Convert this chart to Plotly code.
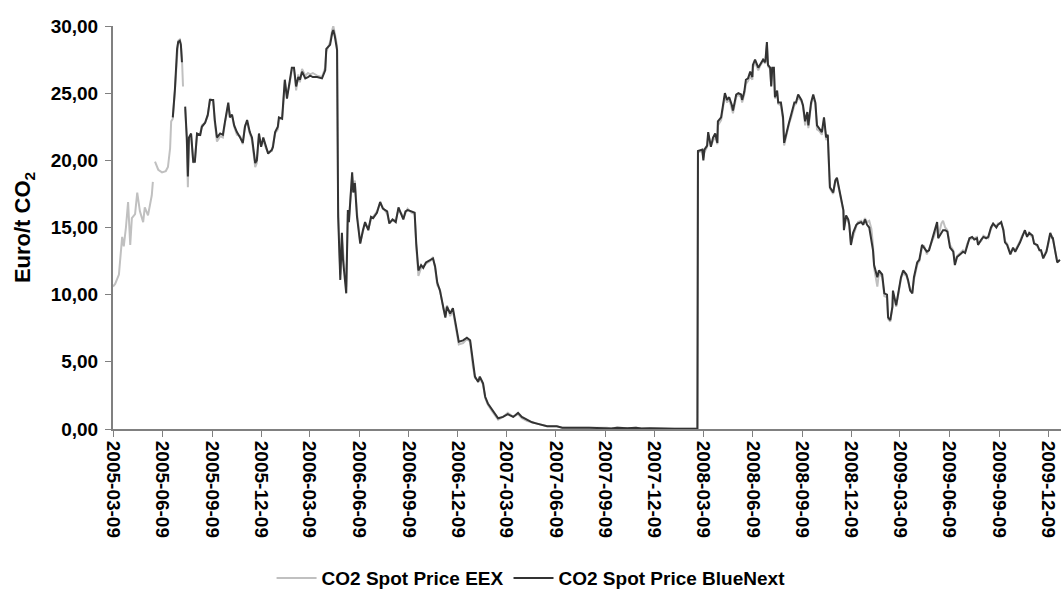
import plotly.graph_objects as go

# ---------------- data ----------------
# EEX only, early period (Phase I start)
eex_early_dates = ["2005-03-09", "2005-03-13", "2005-03-20", "2005-03-26", "2005-03-29", "2005-04-02",
                   "2005-04-06", "2005-04-10", "2005-04-13", "2005-04-19", "2005-04-23", "2005-04-28",
                   "2005-05-04", "2005-05-07", "2005-05-13", "2005-05-20", "2005-05-22", "2005-05-24",
                   "2005-05-26", "2005-06-01", "2005-06-08", "2005-06-15", "2005-06-19", "2005-06-23",
                   "2005-06-25", "2005-06-28", "2005-07-02", "2005-07-06", "2005-07-08", "2005-07-11",
                   "2005-07-13", "2005-07-15", "2005-07-17", "2005-07-19"]
eex_early = [10.6, 10.8, 11.5, 14.3, 13.6, 15.0,
             16.9, 13.7, 15.7, 16.0, 17.6, 16.2,
             15.4, 16.5, 15.9, 17.4, 18.4, None,
             19.9, 19.3, 19.1, 19.2, 19.5, 20.9,
             22.9, 23.1, 25.2, 28.2, 28.9, 29.0,
             28.7, 27.6, 25.5, None]

# BlueNext first days
bn_early_dates = ["2005-06-28", "2005-07-02", "2005-07-06", "2005-07-08", "2005-07-11",
                  "2005-07-13", "2005-07-15", "2005-07-18"]
bn_early = [23.2, 25.3, 28.3, 28.8, 28.9, 28.6, 27.3, None]

dates_main = [
    "2005-07-21", "2005-07-24", "2005-07-26", "2005-07-28", "2005-08-01", "2005-08-05", "2005-08-08", "2005-08-12",
    "2005-08-18", "2005-08-21", "2005-08-27", "2005-09-01", "2005-09-05", "2005-09-11", "2005-09-14", "2005-09-18",
    "2005-09-24", "2005-09-29", "2005-10-03", "2005-10-09", "2005-10-12", "2005-10-16", "2005-10-20", "2005-10-25",
    "2005-10-31", "2005-11-05", "2005-11-09", "2005-11-13", "2005-11-18", "2005-11-22", "2005-11-28", "2005-12-01",
    "2005-12-05", "2005-12-09", "2005-12-13", "2005-12-18", "2005-12-22", "2005-12-29", "2005-12-31", "2006-01-04",
    "2006-01-09", "2006-01-11", "2006-01-17", "2006-01-19", "2006-01-22", "2006-01-26", "2006-01-30", "2006-02-04",
    "2006-02-08", "2006-02-12", "2006-02-16", "2006-02-19", "2006-02-23", "2006-03-01", "2006-03-06", "2006-03-10",
    "2006-03-15", "2006-03-23", "2006-04-01", "2006-04-07", "2006-04-09", "2006-04-16", "2006-04-20", "2006-04-22",
    "2006-04-25", "2006-04-29", "2006-05-01", "2006-05-05", "2006-05-08", "2006-05-10", "2006-05-16", "2006-05-19",
    "2006-05-21", "2006-05-27", "2006-05-29", "2006-06-01", "2006-06-05", "2006-06-11", "2006-06-16", "2006-06-20",
    "2006-06-26", "2006-07-01", "2006-07-05", "2006-07-12", "2006-07-18", "2006-07-23", "2006-07-31", "2006-08-04",
    "2006-08-10", "2006-08-16", "2006-08-21", "2006-08-27", "2006-08-30", "2006-09-03", "2006-09-07", "2006-09-14",
    "2006-09-20", "2006-09-23", "2006-09-27", "2006-10-02", "2006-10-06", "2006-10-11", "2006-10-19", "2006-10-24",
    "2006-10-28", "2006-11-01", "2006-11-06", "2006-11-12", "2006-11-16", "2006-11-19", "2006-11-25", "2006-11-30",
    "2006-12-04", "2006-12-08", "2006-12-11", "2006-12-19", "2006-12-26", "2007-01-01", "2007-01-06", "2007-01-10",
    "2007-01-16", "2007-01-19", "2007-01-25", "2007-01-29", "2007-02-03", "2007-02-11", "2007-02-16", "2007-02-22",
    "2007-03-03", "2007-03-12", "2007-03-22", "2007-03-31", "2007-04-07", "2007-04-17", "2007-04-26", "2007-05-05",
    "2007-05-15", "2007-05-24", "2007-06-11", "2007-06-21", "2007-08-10", "2007-09-12", "2007-09-20", "2007-10-01",
    "2007-10-20", "2007-11-05", "2007-11-15", "2007-12-01", "2007-12-20", "2008-01-15", "2008-02-27",
    "2008-02-28", "2008-03-07", "2008-03-09", "2008-03-11", "2008-03-16", "2008-03-18", "2008-03-23", "2008-03-27",
    "2008-03-31", "2008-04-04", "2008-04-05", "2008-04-11", "2008-04-15", "2008-04-18", "2008-04-22", "2008-04-26",
    "2008-05-01", "2008-05-03", "2008-05-09", "2008-05-13", "2008-05-18", "2008-05-20", "2008-05-24", "2008-05-27",
    "2008-05-31", "2008-06-04", "2008-06-08", "2008-06-09", "2008-06-13", "2008-06-19", "2008-06-22", "2008-06-28",
    "2008-07-02", "2008-07-04", "2008-07-05", "2008-07-07", "2008-07-11", "2008-07-13", "2008-07-15", "2008-07-18",
    "2008-07-20", "2008-07-24", "2008-07-26", "2008-07-31", "2008-08-04", "2008-08-06", "2008-08-12", "2008-08-15",
    "2008-08-19", "2008-08-25", "2008-08-28", "2008-09-01", "2008-09-07", "2008-09-10", "2008-09-14", "2008-09-18",
    "2008-09-20", "2008-09-25", "2008-09-29", "2008-10-03", "2008-10-06", "2008-10-10", "2008-10-15", "2008-10-19",
    "2008-10-23", "2008-10-26", "2008-10-28", "2008-10-30", "2008-11-05", "2008-11-09", "2008-11-12", "2008-11-16",
    "2008-11-22", "2008-11-24", "2008-11-25", "2008-11-29", "2008-12-03", "2008-12-05", "2008-12-08", "2008-12-12",
    "2008-12-18", "2008-12-21", "2008-12-27", "2008-12-31", "2009-01-03", "2009-01-07", "2009-01-11", "2009-01-15",
    "2009-01-18", "2009-01-20", "2009-01-26", "2009-01-29", "2009-02-04", "2009-02-08", "2009-02-13", "2009-02-15",
    "2009-02-19", "2009-02-23", "2009-02-24", "2009-03-02", "2009-03-06", "2009-03-11", "2009-03-15", "2009-03-21",
    "2009-03-24", "2009-03-28", "2009-04-01", "2009-04-04", "2009-04-10", "2009-04-14", "2009-04-19", "2009-04-23",
    "2009-04-28", "2009-05-02", "2009-05-08", "2009-05-12", "2009-05-17", "2009-05-19", "2009-05-25", "2009-05-28",
    "2009-06-01", "2009-06-05", "2009-06-10", "2009-06-16", "2009-06-19", "2009-06-23", "2009-06-29", "2009-07-04",
    "2009-07-08", "2009-07-12", "2009-07-16", "2009-07-21", "2009-07-25", "2009-07-30", "2009-08-01", "2009-08-07",
    "2009-08-11", "2009-08-16", "2009-08-20", "2009-08-25", "2009-08-29", "2009-09-04", "2009-09-07", "2009-09-13",
    "2009-09-17", "2009-09-20", "2009-09-24", "2009-09-30", "2009-10-05", "2009-10-09", "2009-10-13", "2009-10-18",
    "2009-10-22", "2009-10-27", "2009-10-31", "2009-11-04", "2009-11-10", "2009-11-13", "2009-11-19", "2009-11-23",
    "2009-11-26", "2009-11-30", "2009-12-06", "2009-12-09", "2009-12-13", "2009-12-17", "2009-12-18", "2009-12-22",
    "2009-12-26", "2009-12-31",
]

bn_main = [
    24.0, 21.7, 18.8, 21.7, 22.0, 19.9, 19.9, 22.0,
    21.9, 22.5, 22.8, 23.4, 24.5, 24.5, 23.0, 21.7,
    22.0, 21.9, 22.9, 24.3, 23.2, 23.4, 22.6, 22.1,
    21.7, 21.3, 22.5, 23.0, 22.1, 21.7, 19.8, 20.0,
    22.0, 21.0, 21.7, 21.0, 20.5, 20.8, 21.0, 22.1,
    22.5, 23.2, 23.1, 24.3, 26.0, 24.6, 25.7, 26.9,
    26.9, 25.5, 26.2, 26.0, 26.6, 26.1, 26.2, 26.3,
    26.2, 26.2, 26.1, 26.7, 28.3, 28.6, 29.5, 29.7,
    29.2, 28.2, 15.8, 11.1, 14.6, 12.6, 10.1, 16.3,
    15.4, 19.1, 17.6, 18.3, 15.8, 13.8, 14.8, 15.4,
    14.8, 15.8, 15.7, 16.1, 16.9, 16.4, 16.2, 15.3,
    15.6, 15.4, 16.5, 15.9, 15.6, 16.2, 16.3, 16.2,
    16.1, 13.8, 11.8, 12.2, 12.0, 12.4, 12.6, 12.7,
    12.1, 10.9, 10.3, 9.2, 8.3, 9.1, 8.6, 9.0,
    8.0, 7.2, 6.5, 6.6, 6.8, 6.6, 4.9, 3.9,
    3.5, 3.9, 3.4, 2.4, 1.9, 1.4, 1.1, 0.8,
    0.9, 1.1, 0.9, 1.2, 0.9, 0.7, 0.5, 0.4,
    0.3, 0.2, 0.2, 0.1, 0.1, 0.08, 0.03, 0.1,
    0.05, 0.09, 0.04, 0.06, 0.03, 0.02, 0.02,
    20.7, 20.8, 20.0, 20.8, 21.1, 22.1, 21.0, 21.7,
    22.0, 21.3, 22.9, 23.2, 24.3, 25.0, 24.5, 24.7,
    24.1, 23.7, 24.9, 25.0, 24.9, 24.5, 25.1, 26.0,
    26.1, 26.6, 26.2, 27.1, 27.5, 26.9, 27.1, 27.5,
    27.3, 28.1, 28.8, 27.1, 26.9, 25.5, 26.9, 26.9,
    24.7, 25.2, 24.3, 24.3, 23.2, 21.3, 22.4, 22.8,
    23.4, 24.3, 24.3, 24.9, 24.5, 24.1, 22.9, 23.6,
    22.6, 24.3, 24.9, 24.3, 22.6, 22.4, 22.1, 23.2,
    21.7, 21.9, 19.9, 18.0, 17.6, 18.5, 18.7, 17.9,
    16.7, 16.3, 14.8, 15.9, 15.6, 15.2, 13.7, 14.6,
    15.2, 15.3, 15.4, 15.2, 15.6, 15.2, 15.0, 14.1,
    13.3, 12.2, 11.3, 11.8, 11.5, 10.1, 10.0, 8.3,
    8.1, 9.1, 10.3, 9.2, 10.3, 11.3, 11.8, 11.5,
    11.1, 10.3, 10.1, 11.3, 12.4, 12.6, 13.7, 13.5,
    13.2, 13.3, 14.1, 14.6, 15.4, 14.2, 14.6, 14.8,
    14.8, 14.7, 13.5, 13.2, 12.2, 12.8, 13.0, 13.2,
    13.1, 13.7, 14.2, 14.3, 14.1, 14.2, 13.7, 14.1,
    14.3, 14.2, 14.3, 15.0, 15.3, 15.0, 15.2, 15.4,
    14.8, 13.9, 13.7, 13.0, 13.5, 13.2, 13.5, 13.9,
    14.3, 14.8, 14.3, 14.6, 14.4, 13.8, 13.7, 13.3,
    13.3, 12.7, 13.2, 13.8, 14.6, 14.2, 14.2, 13.3,
    12.4, 12.6,
]

eex_main = [
    23.8, 21.5, 18.0, 21.5, 21.8, 19.8, 20.0, 21.9,
    22.0, 22.6, 22.8, 23.3, 24.6, 24.4, 22.8, 21.4,
    21.8, 21.7, 22.8, 24.1, 23.4, 23.3, 22.5, 21.9,
    21.8, 21.2, 22.6, 22.8, 22.0, 21.5, 19.5, 19.8,
    21.8, 21.1, 21.5, 20.9, 20.6, 20.7, 21.2, 22.0,
    22.3, 23.0, 23.2, 24.0, 25.8, 24.9, 25.5, 26.7,
    26.8, 25.2, 26.4, 25.8, 26.8, 26.3, 26.5, 26.4,
    26.5, 26.3, 26.2, 26.9, 28.1, 28.8, 29.7, 30.0,
    29.4, 28.5, 16.5, 11.5, 14.2, 13.2, 10.6, 16.0,
    15.6, 18.8, 17.9, 18.5, 16.1, 13.9, 14.6, 15.3,
    14.9, 15.6, 15.8, 16.2, 16.8, 16.5, 16.0, 15.4,
    15.5, 15.6, 16.3, 16.0, 15.7, 16.1, 16.4, 16.1,
    16.0, 13.6, 11.4, 12.0, 12.1, 12.3, 12.5, 12.8,
    12.0, 10.7, 10.4, 9.0, 8.4, 9.2, 8.4, 8.8,
    7.9, 7.0, 6.3, 6.4, 6.7, 6.5, 4.7, 3.8,
    3.6, 3.8, 3.3, 2.3, 1.8, 1.3, 1.0, 0.7,
    0.9, 1.2, 0.9, 1.1, 0.8, 0.6, 0.5, 0.4,
    0.3, 0.2, 0.2, 0.1, 0.09, 0.1, 0.03, 0.12,
    0.05, 0.1, 0.04, 0.06, 0.03, 0.02, 0.02,
    20.6, 20.7, 20.2, 20.6, 21.0, 21.9, 21.1, 21.5,
    21.8, 21.2, 22.6, 23.0, 24.1, 24.8, 24.3, 24.6,
    23.8, 23.5, 24.7, 24.9, 24.7, 24.3, 24.9, 25.7,
    25.9, 26.3, 26.0, 26.9, 27.3, 26.7, 27.0, 27.4,
    27.2, 28.0, 28.6, 27.0, 26.8, 25.6, 26.8, 26.7,
    24.6, 25.0, 24.2, 24.1, 23.0, 21.1, 22.2, 22.7,
    23.2, 24.1, 24.2, 24.7, 24.4, 24.0, 22.6, 23.4,
    22.4, 24.1, 24.7, 24.2, 22.3, 22.2, 21.9, 23.0,
    21.5, 21.8, 19.7, 17.9, 17.5, 18.4, 18.6, 17.7,
    16.5, 16.2, 15.0, 15.7, 15.5, 15.1, 13.8, 14.4,
    15.1, 15.4, 15.5, 15.3, 15.7, 15.4, 15.5, 14.9,
    13.7, 12.0, 10.6, 11.6, 11.3, 9.9, 9.8, 8.2,
    8.0, 9.0, 10.1, 9.1, 10.2, 11.2, 11.6, 11.4,
    11.0, 10.4, 10.3, 11.1, 12.2, 12.5, 13.5, 13.6,
    13.0, 13.4, 13.9, 14.4, 15.2, 14.3, 15.3, 15.5,
    15.0, 14.8, 13.7, 13.3, 12.4, 12.9, 13.1, 13.3,
    13.2, 13.8, 14.1, 14.2, 14.2, 14.3, 13.8, 14.0,
    14.4, 14.3, 14.2, 14.9, 15.2, 15.1, 15.3, 15.3,
    14.9, 14.0, 13.8, 13.1, 13.4, 13.3, 13.6, 14.0,
    14.4, 14.7, 14.4, 14.5, 14.3, 13.9, 13.6, 13.4,
    13.2, 12.8, 13.3, 13.7, 14.5, 14.3, 14.1, 13.4,
    12.5, 12.5,
]

tick_dates = ["2005-03-09", "2005-06-09", "2005-09-09", "2005-12-09", "2006-03-09", "2006-06-09",
              "2006-09-09", "2006-12-09", "2007-03-09", "2007-06-09", "2007-09-09", "2007-12-09",
              "2008-03-09", "2008-06-09", "2008-09-09", "2008-12-09", "2009-03-09", "2009-06-09",
              "2009-09-09", "2009-12-09"]
y_ticks = [0, 5, 10, 15, 20, 25, 30]

series_names = ["CO2 Spot Price EEX", "CO2 Spot Price BlueNext"]
series_colors = ["#c0c0c0", "#333333"]

# ---------------- figure ----------------
FONT = "Liberation Sans, Arial, sans-serif"

fig = go.Figure()
fig.add_trace(go.Scatter(
    x=eex_early_dates + dates_main, y=eex_early + eex_main,
    mode="lines", name=series_names[0],
    line=dict(color=series_colors[0], width=2), connectgaps=False,
))
fig.add_trace(go.Scatter(
    x=bn_early_dates + dates_main, y=bn_early + bn_main,
    mode="lines", name=series_names[1],
    line=dict(color=series_colors[1], width=2), connectgaps=False,
))

fig.update_layout(
    width=1061, height=597,
    margin=dict(l=113, r=0, t=26, b=168, autoexpand=False),
    paper_bgcolor="white", plot_bgcolor="white",
    separators=",.",
    font=dict(family=FONT, color="black"),
    showlegend=True,
    legend=dict(
        orientation="h", x=0.441, xanchor="center", y=-0.37, yanchor="middle",
        font=dict(family=FONT, size=19, color="black", weight="bold"),
        itemwidth=40, tracegroupgap=0, bgcolor="rgba(0,0,0,0)",
    ),
)

fig.update_xaxes(
    type="date", range=["2005-03-09", "2010-01-02"],
    tickmode="array", tickvals=tick_dates, ticktext=tick_dates,
    tickangle=90, ticks="outside", ticklen=6, tickcolor="#808080", tickwidth=1,
    tickfont=dict(family=FONT, size=19, color="black", weight="bold"),
    showline=True, linecolor="#808080", linewidth=2,
    showgrid=False, zeroline=False, automargin=False,
)
fig.update_yaxes(
    range=[0, 30], tickmode="array", tickvals=y_ticks, tickformat=".2f",
    ticks="outside", ticklen=6, tickcolor="#808080", tickwidth=1,
    ticklabelstandoff=3,
    tickfont=dict(family=FONT, size=19, color="black", weight="bold"),
    showline=True, linecolor="#808080", linewidth=2,
    showgrid=False, zeroline=False, automargin=False,
    title=dict(text="Euro/t CO<sub>2</sub>", standoff=14,
               font=dict(family=FONT, size=22, color="black", weight="bold")),
)

fig.write_html("out.html", config={"displayModeBar": False},
               post_script="document.body.style.margin='0';")
